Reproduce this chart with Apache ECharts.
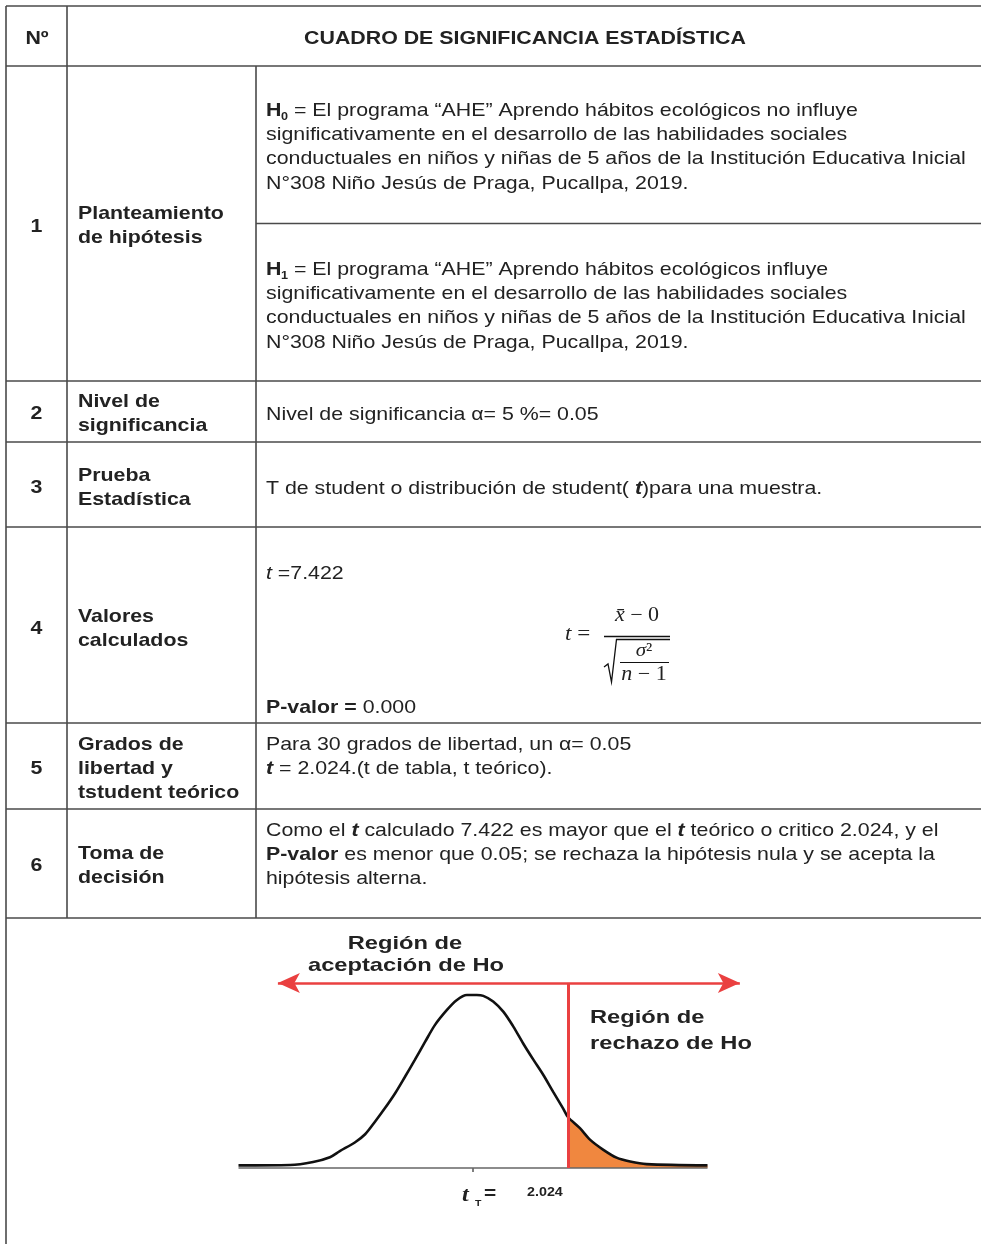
<!DOCTYPE html>
<html>
<head>
<meta charset="utf-8">
<title>Cuadro de significancia estadística</title>
<script src="https://cdn.jsdelivr.net/npm/echarts@6.0.0/dist/echarts.min.js"></script>
<style>
    html, body { margin: 0; padding: 0; background: #fff; }
    #chart { width: 981px; height: 1244px; }
</style>
</head>
<body>
<div id="chart"></div>
<script>
// ----- contenido de la tabla -----
var headerNo = 'Nº';
var headerTitle = 'CUADRO DE SIGNIFICANCIA ESTADÍSTICA';
var rowNumbers = ['1', '2', '3', '4', '5', '6'];
var rowTitles = [
    ['Planteamiento', 'de hipótesis'],
    ['Nivel de', 'significancia'],
    ['Prueba', 'Estadística'],
    ['Valores', 'calculados'],
    ['Grados de', 'libertad y', 'tstudent teórico'],
    ['Toma de', 'decisión']
];
var h0Lines = [
    ' = El programa “AHE” Aprendo hábitos ecológicos no influye',
    'significativamente en el desarrollo de las habilidades sociales',
    'conductuales en niños y niñas de 5 años de la Institución Educativa Inicial',
    'N°308 Niño Jesús de Praga, Pucallpa, 2019.'
];
var h1Lines = [
    ' = El programa “AHE” Aprendo hábitos ecológicos influye',
    'significativamente en el desarrollo de las habilidades sociales',
    'conductuales en niños y niñas de 5 años de la Institución Educativa Inicial',
    'N°308 Niño Jesús de Praga, Pucallpa, 2019.'
];
var row2Lines = ['Nivel de significancia α= 5 %= 0.05'];
var row3Lines = ['T de student o distribución de student( {bi|t})para una muestra.'];
var tCalc = '7.422';
var pValue = '0.000';
var row5Lines = [
    'Para 30 grados de libertad, un α= 0.05',
    '{bi|t} = 2.024.(t de tabla, t teórico).'
];
var row6Lines = [
    'Como el {bi|t} calculado 7.422 es mayor que el {bi|t} teórico o critico 2.024, y el',
    '{b|P-valor} es menor que 0.05; se rechaza la hipótesis nula y se acepta la',
    'hipótesis alterna.'
];

// ----- curva t -----
var curveT = [-5.0, -3.9, -3.41, -3.05, -2.84, -2.52, -2.30, -2.09, -1.88, -1.66, -1.45, -1.24, -1.02,
    -0.81, -0.56, -0.35, -0.13, 0.08, 0.22, 0.43, 0.65, 0.86, 1.07, 1.29, 1.50, 1.71, 1.92, 2.024,
    2.28, 2.50, 2.78, 3.06, 3.35, 3.70, 5.0];
var curveDensity = [0.006, 0.007, 0.014, 0.025, 0.039, 0.059, 0.078, 0.107, 0.138, 0.173, 0.211, 0.250, 0.292,
    0.331, 0.365, 0.388, 0.400, 0.400, 0.398, 0.385, 0.361, 0.327, 0.288, 0.250, 0.215, 0.176, 0.138, 0.118,
    0.092, 0.065, 0.042, 0.024, 0.015, 0.009, 0.006];
var tCritical = 2.024;
var arrowLevel = 0.428;
var arrowFrom = -4.16;
var arrowTo = 5.69;
var acceptLabel = ['Región de', 'aceptación de Ho'];
var rejectLabel = ['Región de', 'rechazo de Ho'];

// ----- estilos -----
var SANS = '"Liberation Sans", Arial, Helvetica, sans-serif';
var SERIF = '"Liberation Serif", "DejaVu Serif", serif';
var INK = '#222';
var RULE = '#4a4a4a';
var RED = '#ea4040';
var ORANGE = '#f0873f';
var FS = 17.8;
var SX = 1.2;
var LH = 24.3;
var DY = 2;   // ajuste vertical del texto

function richFor(fs, family) {
    return {
        b: { fontSize: fs, fontFamily: family, fontWeight: 'bold', fill: INK },
        bi: { fontSize: fs, fontFamily: family, fontWeight: 'bold', fontStyle: 'italic', fill: INK },
        i: { fontSize: fs, fontFamily: family, fontStyle: 'italic', fill: INK }
    };
}

function label(x, y, text, o) {
    o = o || {};
    var fs = o.size || FS;
    var fam = o.family || SANS;
    var al = o.align || 'left';
    return {
        type: 'text', x: x, y: y + DY, scaleX: o.sx || SX, silent: true, z: 10,
        style: {
            text: text, x: 0, y: 0,
            fontSize: fs, fontFamily: fam,
            fontWeight: o.weight || 'normal', fontStyle: o.style || 'normal',
            fill: o.color || INK,
            align: al, textAlign: al,
            verticalAlign: 'middle', textVerticalAlign: 'middle',
            rich: richFor(fs, fam)
        }
    };
}

function block(els, x, y0, lines, o) {
    lines.forEach(function (s, i) {
        els.push(label(x, y0 + i * LH, s, o));
    });
}

function rule(x1, y1, x2, y2, w, c) {
    return {
        type: 'line', silent: true, z: 5,
        shape: { x1: x1, y1: y1, x2: x2, y2: y2 },
        style: { stroke: c || RULE, lineWidth: w || 1.6 }
    };
}

// ----- tabla -----
var els = [];
// líneas horizontales
[6, 66, 381, 442, 527, 723, 809, 918].forEach(function (y) {
    els.push(rule(6, y, 981, y));
});
els.push(rule(256, 223.5, 981, 223.5));
// líneas verticales
els.push(rule(6, 6, 6, 1244));
els.push(rule(67, 6, 67, 918));
els.push(rule(256, 66, 256, 918));

// encabezado
els.push(label(37, 37, headerNo, { weight: 'bold', align: 'center' }));
els.push(label(525, 37, headerTitle, { weight: 'bold', align: 'center' }));

// números y títulos de fila
var rowNumY = [225, 412, 486, 627, 767, 864];
var rowTitleY = [212, 400, 474, 615, 743, 852];
rowNumbers.forEach(function (n, i) {
    els.push(label(36.5, rowNumY[i], n, { weight: 'bold', align: 'center' }));
    block(els, 78, rowTitleY[i], rowTitles[i], { weight: 'bold' });
});

// fila 1: hipótesis
els.push(label(266, 109, '{b|H}'));
els.push(label(281, 115, '0', { size: 10.5, weight: 'bold' }));
block(els, 288, 109, h0Lines.slice(0, 1));
block(els, 266, 109 + LH, h0Lines.slice(1));
els.push(label(266, 268, '{b|H}'));
els.push(label(281, 274, '1', { size: 10.5, weight: 'bold' }));
block(els, 288, 268, h1Lines.slice(0, 1));
block(els, 266, 268 + LH, h1Lines.slice(1));

// filas 2 y 3
block(els, 266, 413, row2Lines);
block(els, 266, 487, row3Lines);

// fila 4: valores calculados
els.push(label(266, 572, '{i|t} =' + tCalc));
els.push(label(266, 706, '{b|P-valor =} ' + pValue));
// fórmula t = (x̄ - 0) / sqrt(σ² / (n - 1))
els.push(label(565, 632, '{i|t} =', { family: SERIF, size: 21, sx: 1.1 }));
els.push(label(637, 614, '{i|x̄} − 0', { family: SERIF, size: 20, sx: 1.1, align: 'center' }));
els.push(rule(604, 636.5, 670, 636.5, 1.3, '#111'));
els.push({
    type: 'polyline', silent: true, z: 5,
    shape: { points: [[604, 667], [608, 664], [611.5, 682], [616.5, 639.5], [670, 639.5]] },
    style: { stroke: '#111', lineWidth: 1.3, fill: null }
});
els.push(label(644, 649, '{i|σ}²', { family: SERIF, size: 19, sx: 1.1, align: 'center' }));
els.push(rule(620, 662.5, 669, 662.5, 1.2, '#111'));
els.push(label(644, 673, '{i|n} − 1', { family: SERIF, size: 20, sx: 1.1, align: 'center' }));

// filas 5 y 6
block(els, 266, 743, row5Lines);
block(els, 266, 829, row6Lines);

// ----- rótulos del gráfico -----
var CF = 18.5, CSX = 1.28;
els.push(label(405, 942, acceptLabel[0], { weight: 'bold', size: CF, sx: CSX, align: 'center' }));
els.push(label(406, 964, acceptLabel[1], { weight: 'bold', size: CF, sx: CSX, align: 'center' }));
els.push(label(590, 1016, rejectLabel[0], { weight: 'bold', size: CF, sx: CSX }));
els.push(label(590, 1042, rejectLabel[1], { weight: 'bold', size: CF, sx: CSX }));
els.push(label(462, 1193, 't', { weight: 'bold', style: 'italic', size: 22, sx: 1.1, family: SERIF }));
els.push(label(475, 1201, 'T', { weight: 'bold', size: 9.5, sx: 1.1 }));
els.push(label(484, 1192, '=', { weight: 'bold', size: 19, sx: 1.1 }));
els.push(label(527, 1190, String(tCritical), { weight: 'bold', size: 13, sx: 1.1 }));

// ----- series -----
var curvePoints = curveT.map(function (t, i) { return [t, curveDensity[i]]; });
var tailPoints = curvePoints.filter(function (p) { return p[0] >= tCritical; });

var myChart = echarts.init(document.getElementById('chart'), null, { renderer: 'canvas' });
var option = {
    backgroundColor: '#fff',
    animation: false,
    grid: { left: 238.5, width: 515.9, top: 973.4, height: 194.6, containLabel: false },
    xAxis: {
        type: 'value', min: -5, max: 6,
        axisLine: { show: false },
        axisLabel: { show: false },
        splitLine: { show: false },
        axisTick: { show: true, customValues: [0], length: 4, lineStyle: { color: '#555', width: 1.5 } }
    },
    yAxis: { type: 'value', min: 0, max: 0.45, show: false },
    graphic: { elements: els },
    series: [
        {
            type: 'line', name: 'cola', data: tailPoints,
            smooth: 0.3, symbol: 'none', silent: true, z: 2,
            lineStyle: { width: 0 },
            areaStyle: { color: ORANGE, opacity: 1 }
        },
        {
            type: 'line', name: 'curva', data: curvePoints,
            smooth: 0.3, symbol: 'none', silent: true, z: 3,
            lineStyle: { color: '#111', width: 2.6 },
            markLine: {
                silent: true, animation: false, symbol: 'none', label: { show: false },
                data: [
                    [
                        { coord: [-5, 0], lineStyle: { color: '#666', width: 1.6, type: 'solid' } },
                        { coord: [5, 0] }
                    ],
                    [
                        { coord: [tCritical, 0], lineStyle: { color: RED, width: 3, type: 'solid' } },
                        { coord: [tCritical, arrowLevel] }
                    ],
                    [
                        { coord: [arrowFrom, arrowLevel], symbol: 'arrow', symbolSize: [15, 22],
                          lineStyle: { color: RED, width: 2.5, type: 'solid' } },
                        { coord: [arrowTo, arrowLevel], symbol: 'arrow', symbolSize: [15, 22] }
                    ]
                ]
            }
        }
    ]
};
myChart.setOption(option);
</script>
</body>
</html>
